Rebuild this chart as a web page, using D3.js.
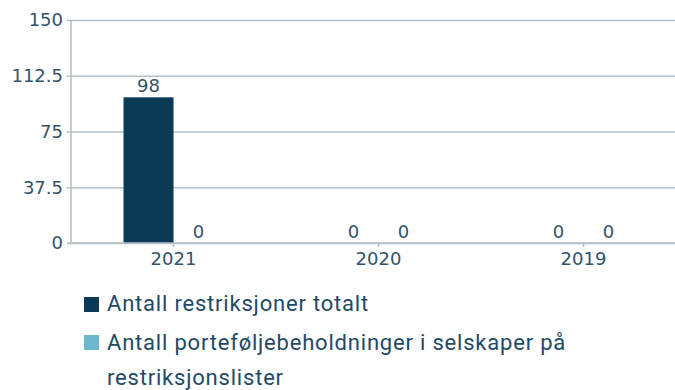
<!DOCTYPE html>
<html>
<head>
<meta charset="utf-8">
<script src="https://cdn.jsdelivr.net/npm/d3@7"></script>
<style>
  html, body { margin: 0; padding: 0; background: #fff; }
  svg { display: block; }
</style>
</head>
<body>
<svg id="chart" width="675" height="390"></svg>
<script>
// Years shown along the x axis
const years = ["2021", "2020", "2019"];
// Series names (legend) and values per year
const seriesNames = [
  "Antall restriksjoner totalt",
  "Antall porteføljebeholdninger i selskaper på restriksjonslister"
];
const totalRestrictions = [98, 0, 0];
const portfolioHoldings = [0, 0, 0];
const yTicks = [0, 37.5, 75, 112.5, 150];
const seriesColors = ["#0b3a57", "#6db8cc"];

const svg = d3.select("#chart");
const axisColor = "#b5bfc8";
const textColor = "#34536a";
const font = "'DejaVu Sans', Verdana, sans-serif";
const fontSize = "18px";

const plot = { left: 71, right: 675, top: 20, bottom: 243 };

const y = d3.scaleLinear().domain([0, 150]).range([plot.bottom, plot.top]);
const x = d3.scaleBand().domain(years).range([plot.left, plot.left + 615]).padding(0);
const inner = d3.scaleBand().domain([0, 1]).range([-50, 50]).padding(0);

// Horizontal gridlines with ticks
const yAxis = d3.axisLeft(y)
  .tickValues(yTicks)
  .tickSize(-(plot.right - plot.left))
  .tickSizeOuter(0)
  .tickPadding(8)
  .tickFormat(d => String(d));

const gy = svg.append("g")
  .attr("transform", `translate(${plot.left},0)`)
  .call(yAxis);
gy.select(".domain").remove();
gy.selectAll(".tick line")
  .attr("x1", -4)
  .attr("stroke", axisColor)
  .attr("stroke-width", 1.6);
gy.selectAll(".tick text")
  .attr("fill", textColor)
  .style("font-family", font)
  .style("font-size", fontSize);

// Vertical axis line
svg.append("line")
  .attr("x1", plot.left).attr("x2", plot.left)
  .attr("y1", plot.top).attr("y2", plot.bottom)
  .attr("stroke", axisColor).attr("stroke-width", 1.6);

// Bars
const rows = years.map((yr, i) => ({ year: yr, values: [totalRestrictions[i], portfolioHoldings[i]] }));

const groups = svg.append("g").selectAll("g")
  .data(rows)
  .join("g")
  .attr("transform", d => `translate(${x(d.year) + x.bandwidth() / 2},0)`);

groups.selectAll("rect")
  .data(d => d.values.map((v, s) => ({ v, s })))
  .join("rect")
  .attr("x", d => inner(d.s))
  .attr("width", inner.bandwidth())
  .attr("y", d => y(d.v))
  .attr("height", d => y(0) - y(d.v))
  .attr("fill", d => seriesColors[d.s]);

groups.selectAll("text.val")
  .data(d => d.values.map((v, s) => ({ v, s })))
  .join("text")
  .attr("class", "val")
  .attr("x", d => inner(d.s) + inner.bandwidth() / 2)
  .attr("y", d => y(d.v) - 5)
  .attr("text-anchor", "middle")
  .attr("fill", textColor)
  .style("font-family", font)
  .style("font-size", fontSize)
  .text(d => d.v);

// X axis
const xAxis = d3.axisBottom(x).tickSize(4).tickSizeOuter(0).tickPadding(5);
const gx = svg.append("g")
  .attr("transform", `translate(0,${plot.bottom})`)
  .call(xAxis);
gx.select(".domain").remove();
gx.selectAll(".tick line").attr("stroke", axisColor).attr("stroke-width", 1.6);
gx.selectAll(".tick text")
  .attr("fill", textColor)
  .style("font-family", font)
  .style("font-size", fontSize);
svg.append("line")
  .attr("x1", plot.left - 4).attr("x2", plot.right)
  .attr("y1", plot.bottom).attr("y2", plot.bottom)
  .attr("stroke", axisColor).attr("stroke-width", 1.6);

// Legend
const legendFont = "Roboto, 'Noto Sans', sans-serif";
const legendColor = "#1f4a66";
const legend = svg.append("g");
legend.append("rect").attr("x", 84).attr("y", 297).attr("width", 15).attr("height", 15).attr("fill", seriesColors[0]);
legend.append("rect").attr("x", 84).attr("y", 335).attr("width", 15).attr("height", 15).attr("fill", seriesColors[1]);

const legendText = legend.append("g")
  .attr("fill", legendColor)
  .style("font-family", legendFont)
  .style("font-size", "22px")
  .style("letter-spacing", "0.8px");
legendText.append("text").attr("x", 107).attr("y", 311).text(seriesNames[0]);
const second = seriesNames[1];
const cut = second.lastIndexOf(" ");
legendText.append("text").attr("x", 107).attr("y", 350).text(second.slice(0, cut));
legendText.append("text").attr("x", 107).attr("y", 385).text(second.slice(cut + 1));
</script>
</body>
</html>
